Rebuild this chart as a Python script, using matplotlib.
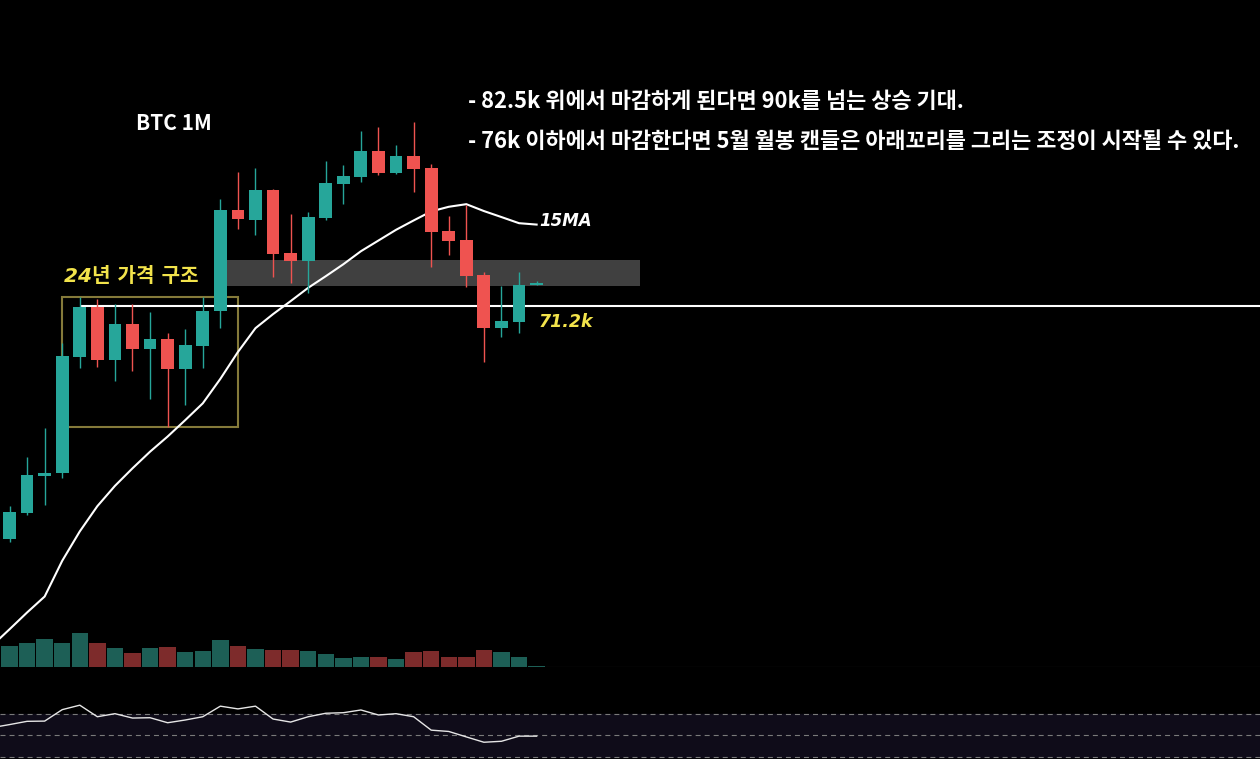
import matplotlib
matplotlib.use("Agg")
import matplotlib.pyplot as plt
from matplotlib.patches import Rectangle
import numpy as np

plt.rcParams['font.family'] = ['Noto Sans CJK KR', 'DejaVu Sans']
plt.rcParams['lines.scale_dashes'] = False

# ---------------- data (prices in k USD) ----------------
opens  = [34.3, 37.2, 41.8, 42.2, 60.7, 71.1, 60.2, 67.4, 62.3, 64.3, 58.5, 62.9, 70.2,
          96.4, 93.5, 102.7, 84.2, 82.1, 94.0, 104.7, 107.0, 116.1, 108.3, 114.3, 110.0,
          90.3, 87.8, 78.6, 66.5, 67.8, 76.2]
closes = [37.3, 41.9, 42.2, 60.9, 71.1, 60.2, 67.4, 62.3, 64.3, 58.5, 63.1, 70.2, 96.4,
          93.7, 102.7, 84.0, 82.1, 94.3, 105.0, 107.3, 116.1, 108.3, 114.3, 109.7, 90.0,
          87.5, 78.4, 66.5, 68.0, 76.2, 76.7]
highs  = [38.0, 44.4, 48.6, 63.5, 73.4, 72.9, 71.8, 71.8, 70.0, 65.5, 66.3, 73.4, 99.8,
          108.7, 110.1, 102.9, 95.2, 95.8, 112.5, 111.1, 123.6, 125.2, 118.3, 127.2, 111.5,
          94.6, 98.0, 79.3, 75.9, 79.3, 77.2]
lows   = [33.9, 37.0, 38.1, 41.5, 58.7, 58.9, 56.3, 58.1, 53.2, 48.8, 52.2, 58.7, 66.5,
          90.9, 89.2, 78.1, 76.7, 74.3, 93.5, 98.3, 105.3, 107.7, 108.0, 102.1, 80.6,
          83.7, 75.7, 59.8, 64.7, 65.5, 76.2]
volumes = [21, 24, 28, 24, 34, 24, 19, 14, 19, 20, 15, 16, 27, 21, 18, 17, 17, 16, 13,
           9, 10, 10, 8, 15, 16, 10, 10, 17, 15, 10, 1.5]
# 15-period moving average (first value belongs to a candle just off the left edge)
ma15 = [24.5, 25.8, 27.2, 28.6, 32.0, 35.1, 38.0, 40.5, 42.8, 45.1, 47.3, 49.8, 52.5,
        56.7, 61.7, 66.5, 69.5, 72.4, 75.5, 78.3, 81.3, 84.7, 87.6, 90.6, 93.3, 96.0,
        97.4, 98.2, 96.1, 94.3, 92.5, 92.1]
# RSI (first value belongs to the candle just off the left edge)
rsi = [57.2, 60.0, 63.0, 63.2, 73.7, 77.8, 67.2, 70.0, 66.0, 66.3, 61.7, 64.2, 67.2,
       76.9, 74.4, 76.9, 65.1, 62.3, 67.2, 70.4, 70.9, 73.4, 68.8, 70.0, 67.2, 54.9,
       53.7, 48.7, 43.8, 44.7, 49.4, 49.4]
rsi_levels = [70, 50, 30]

level_line = 71.2
zone_low, zone_high = 76.0, 82.5
box_low, box_high = 48.8, 73.4

title = "BTC 1M"
box_label = "24년 가격 구조"
ma_label = "15MA"
level_label = "71.2k"
notes = ["- 82.5k 위에서 마감하게 된다면 90k를 넘는 상승 기대.",
         "- 76k 이하에서 마감한다면 5월 월봉 캔들은 아래꼬리를 그리는 조정이 시작될 수 있다."]

# ---------------- figure ----------------
W, H = 1260, 759
fig = plt.figure(figsize=(W / 100, H / 100), dpi=100, facecolor='black')

XMIN, XMAX = -0.5407, 71.17
UP, DOWN = '#26a69a', '#ef5350'
VUP, VDOWN = '#1d5f56', '#7d2b2b'
YELLOW = '#f2e34b'

n = len(opens)
x = np.arange(n)

# price pane (whole figure, log scale)
ax = fig.add_axes([0, 0, 1, 1])
ax.set_facecolor('none')
ax.set_yscale('log')
ax.set_xlim(XMIN, XMAX)
ax.set_ylim(17.16, 186.6)
ax.axis('off')

ax.add_patch(Rectangle((12, zone_low), 35.9 - 12, zone_high - zone_low,
                       facecolor='#404040', edgecolor='none', zorder=1))
ax.add_patch(Rectangle((3, box_low), 10, box_high - box_low, facecolor='none',
                       edgecolor='#857a3a', lw=1.5, zorder=2))
ax.plot(np.arange(-1, n), ma15, color='white', lw=1.5, zorder=2.5, solid_joinstyle='round')
ax.hlines(level_line, 4, XMAX, color='white', lw=1.5, zorder=2.4)

bw = 0.73
for i in range(n):
    o, c, h, l = opens[i], closes[i], highs[i], lows[i]
    col = UP if c >= o else DOWN
    ax.vlines(x[i], l, h, color=col, lw=1.0, zorder=3)
    lo, hi = min(o, c), max(o, c)
    ax.add_patch(Rectangle((x[i] - bw / 2, lo), bw, hi - lo, facecolor=col,
                           edgecolor='none', zorder=3.5))

# volume overlay
vbot = 667.3
vax = fig.add_axes([0, (H - vbot) / H, 1, 67.3 / H])
vax.set_facecolor('none')
vax.set_xlim(XMIN, XMAX)
vax.set_ylim(0, 67.3)
vax.axis('off')
vcols = [VUP if closes[i] >= opens[i] else VDOWN for i in range(n)]
vax.bar(x, volumes, width=0.93, color=vcols, align='center', zorder=2)
vax.axhline(0, color='#383838', lw=0.8, zorder=1)

# RSI pane
rax = fig.add_axes([0, 0, 1, 91 / H])
rax.set_facecolor('none')
rax.set_xlim(XMIN, XMAX)
rax.set_ylim(28.44, 111.9)
rax.axis('off')
rax.axhspan(rsi_levels[2], rsi_levels[0], color='#0f0c19', zorder=0)
for lv in rsi_levels:
    rax.axhline(lv, color='#7a7a7a', lw=0.8, dashes=(3.6, 2.9), zorder=1)
rax.plot(np.arange(-1, n), rsi, color='#e6e6e6', lw=1.0, zorder=2)

# texts (figure pixel positions)
def fx(px):
    return px / W

def fy(py):
    return 1 - py / H

fig.text(fx(174), fy(123), title, color='white', fontsize=15, fontweight='bold',
         ha='center', va='center')
fig.text(fx(64), fy(276), box_label, color=YELLOW, fontsize=14.5, fontweight='bold',
         style='italic', family=['DejaVu Sans', 'Noto Sans CJK KR'], ha='left', va='center')
fig.text(fx(539), fy(221), ma_label, color='white', fontsize=12, fontweight='bold',
         style='italic', family=['DejaVu Sans'], ha='left', va='center')
fig.text(fx(539), fy(322), level_label, color=YELLOW, fontsize=12.5, fontweight='bold',
         style='italic', family=['DejaVu Sans'], ha='left', va='center')
fig.text(fx(468), fy(101), notes[0], color='white', fontsize=15.8, fontweight='bold',
         ha='left', va='center')
fig.text(fx(468), fy(141), notes[1], color='white', fontsize=15.8, fontweight='bold',
         ha='left', va='center')

fig.savefig('out.png', dpi=100, facecolor='black')
